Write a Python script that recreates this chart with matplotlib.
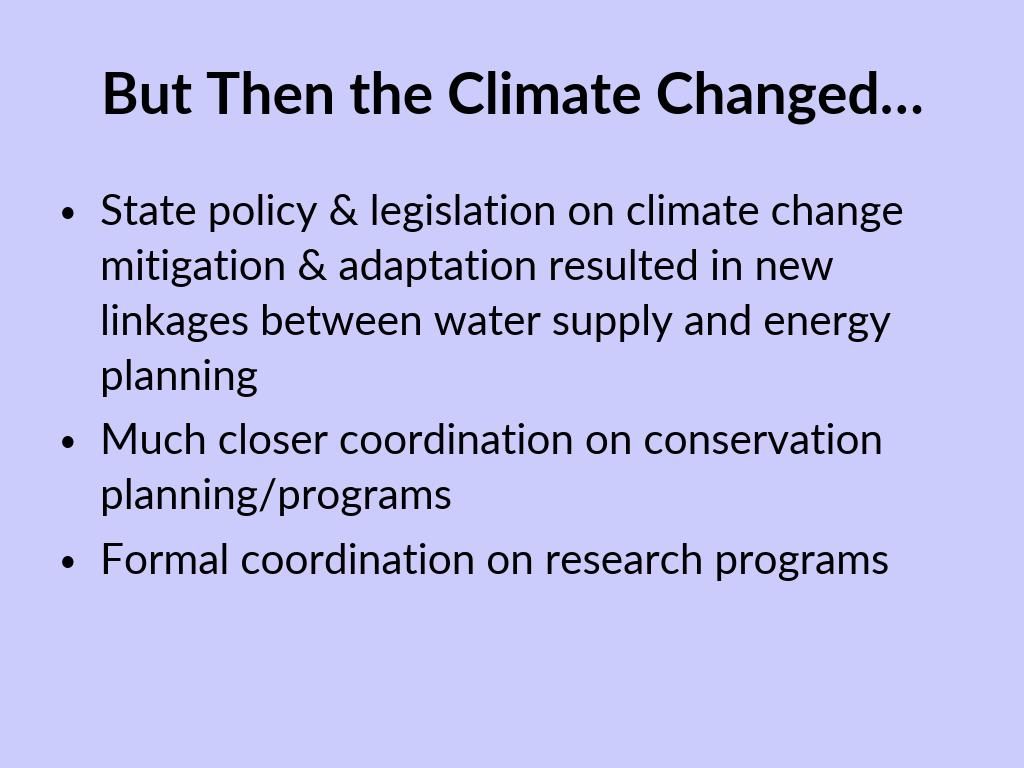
import matplotlib.pyplot as plt

title = "But Then the Climate Changed…"
lines = [
    ("•", "State policy & legislation on climate change"),
    ("", "mitigation & adaptation resulted in new"),
    ("", "linkages between water supply and energy"),
    ("", "planning"),
    ("•", "Much closer coordination on conservation"),
    ("", "planning/programs"),
    ("•", "Formal coordination on research programs"),
]
line_y = [213, 268, 323, 378, 442, 497, 562]

fig = plt.figure(figsize=(10.24, 7.68), dpi=100)
fig.patch.set_facecolor("#ccccfc")
ax = fig.add_axes([0, 0, 1, 1])
ax.set_xlim(0, 1024)
ax.set_ylim(768, 0)
ax.axis("off")

ax.text(512, 97, title, ha="center", va="center", fontsize=41,
        fontweight="bold", family="Lato", color="black")
for (b, t), y in zip(lines, line_y):
    if b:
        ax.text(68, y, b, ha="center", va="center", fontsize=22,
                family="Lato", color="black")
    ax.text(100, y, t, ha="left", va="center", fontsize=30.5,
            family="Lato", color="black")

fig.savefig("out.png", dpi=100, facecolor=fig.get_facecolor())
